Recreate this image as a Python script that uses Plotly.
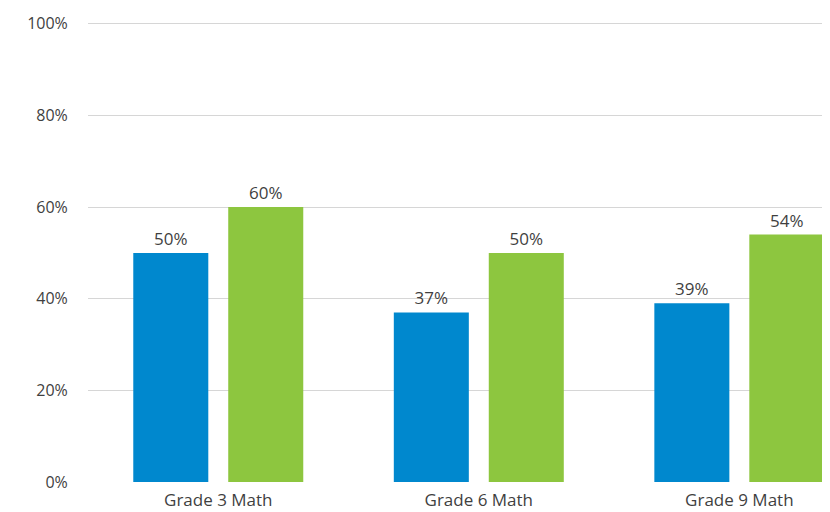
import plotly.graph_objects as go

categories = ["Grade 3 Math", "Grade 6 Math", "Grade 9 Math"]
series_a = [50, 37, 39]
series_b = [60, 50, 54]
series_names = ["Series A", "Series B"]
tick_vals = [0, 20, 40, 60, 80, 100]

blue = "#0088CE"
green = "#8DC63F"
text_color = "#3f3f3f"
font_family = "Open Sans"

fig = go.Figure()
for name, vals, col in [(series_names[0], series_a, blue), (series_names[1], series_b, green)]:
    fig.add_trace(go.Bar(
        x=categories, y=vals, name=name,
        marker=dict(color=col, line=dict(width=0)),
        text=[f"{v}%" for v in vals], textposition="outside",
        textfont=dict(size=17, color=text_color, family=font_family),
        cliponaxis=False,
    ))

# page body adds an 8px offset; figure size and margins compensate for it
fig.update_layout(
    width=822, height=504,
    margin=dict(l=80, r=0, t=14, b=30, autoexpand=False),
    barmode="group", bargap=0.271, bargroupgap=0.21,
    plot_bgcolor="white", paper_bgcolor="white",
    showlegend=False,
    font=dict(family=font_family, color=text_color, size=16),
)
fig.update_yaxes(
    range=[0, 100.4], tickvals=tick_vals, ticktext=[f"{v}%" for v in tick_vals],
    showgrid=True, gridcolor="rgba(0,0,0,0.16)", gridwidth=1,
    layer="above traces", zeroline=False, showline=False, automargin=False,
    ticks="outside", ticklen=16, tickcolor="rgba(0,0,0,0)",
    tickfont=dict(size=16, color=text_color),
)
fig.update_xaxes(
    range=[-0.5, 2.348], showgrid=False, showline=False, zeroline=False, automargin=False,
    ticks="outside", ticklen=3, tickcolor="rgba(0,0,0,0)",
    tickfont=dict(size=17, color=text_color),
)

fig.write_html("out.html")
